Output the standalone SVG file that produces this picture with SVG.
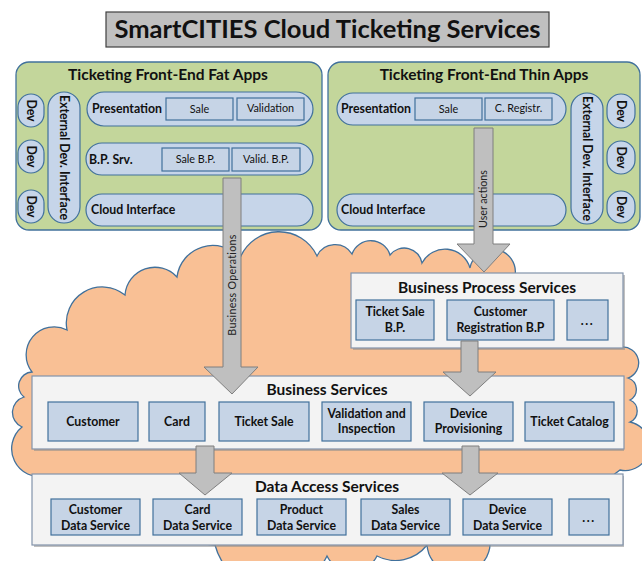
<svg xmlns="http://www.w3.org/2000/svg" width="642" height="561" viewBox="0 0 642 561">
<style>
text{font-family:Lato,"Open Sans","Liberation Sans",sans-serif;fill:#111}
.title{font-size:25.5px;font-weight:bold;text-anchor:middle}
.ph{font-size:15.5px;font-weight:bold;text-anchor:middle}
.pl{font-size:12.3px;font-weight:bold}
.sm{font-size:10.8px;text-anchor:middle}
.rv{font-size:12.3px;font-weight:bold;text-anchor:middle}
.st{font-size:15.5px;font-weight:bold;text-anchor:middle}
.bl{font-size:12.3px;font-weight:bold;text-anchor:middle}
.ar{font-size:10.7px;text-anchor:middle;fill:#222}
.panel{fill:#c3d69b;stroke:#41719c;stroke-width:1.3}
.pill{fill:#c6d5e9;stroke:#41719c;stroke-width:1.2}
.sub{fill:#c6d4e6;stroke:#41719c;stroke-width:1.2}
.svc{fill:#f3f3f3;stroke:#8293ab;stroke-width:1.2}
.shd{fill:#8c8c8c;opacity:.55}
.arrow{fill:#bfbfbf;stroke:#7f7f7f;stroke-width:1}
</style>

<g id="title">
<rect x="106" y="12" width="443" height="35" fill="#c0c0c0" stroke="#404040" stroke-width="1.2"/>
<text class="title" x="327.5" y="38">SmartCITIES Cloud Ticketing Services</text>
</g>

<g id="cloud">
<path d="M46 476 A28 28 0 0 1 22 427 A16 16 0 0 1 24 397 A14 14 0 0 1 32 372 A28 28 0 0 1 67 330 A36 36 0 0 1 125 295 A30 30 0 0 1 177 277 A36 36 0 0 1 240 258 A42 42 0 0 1 317 256 A20 20 0 0 1 352 254 A20 20 0 0 1 390 255 A18 18 0 0 1 422 263 A26 26 0 0 1 470 268 A16 16 0 0 1 515 276 L618 280 L621 347 A16 16 0 0 1 628 378 A12 12 0 0 1 630 400 A12 12 0 0 1 630 422 A20 20 0 0 1 620 470 L600 485 L490 540 A28 28 0 0 1 427 545 A40 40 0 0 1 377 556 A28 28 0 0 1 327 556 A60 60 0 0 1 215 545 L60 530 Z" fill="#f9c095" stroke="#41719c" stroke-width="1.3"/>
</g>

<g id="fat-apps">
<rect class="panel" x="16" y="62" width="306" height="168" rx="13"/>
<text class="ph" x="168" y="80">Ticketing Front-End Fat Apps</text>
</g>
<g id="fat-dev1"><rect class="pill" x="18" y="94" width="26" height="33" rx="13"/><text class="rv" transform="translate(31 110.5) rotate(90)" y="4.3">Dev</text></g>
<g id="fat-dev2"><rect class="pill" x="18" y="140" width="26" height="33" rx="13"/><text class="rv" transform="translate(31 156.5) rotate(90)" y="4.3">Dev</text></g>
<g id="fat-dev3"><rect class="pill" x="18" y="190" width="26" height="33" rx="13"/><text class="rv" transform="translate(31 206.5) rotate(90)" y="4.3">Dev</text></g>
<g id="fat-ext"><rect class="pill" x="48" y="92" width="32" height="131" rx="16"/><text class="rv" transform="translate(64 157.5) rotate(90)" y="4.3">External Dev. Interface</text></g>
<g id="fat-presentation">
<rect class="pill" x="87" y="92" width="226" height="34" rx="17"/>
<text class="pl" x="92" y="113">Presentation</text>
<rect class="sub" x="166" y="98" width="67" height="22"/><text class="sm" x="199.5" y="112.5">Sale</text>
<rect class="sub" x="237" y="98" width="67" height="22"/><text class="sm" x="270.5" y="112">Validation</text>
</g>
<g id="fat-bpsrv">
<rect class="pill" x="86" y="143" width="227" height="32" rx="16"/>
<text class="pl" x="89" y="164">B.P. Srv.</text>
<rect class="sub" x="162" y="148" width="67" height="23"/><text class="sm" x="195.5" y="163">Sale B.P.</text>
<rect class="sub" x="232" y="148" width="68" height="23"/><text class="sm" x="266" y="163">Valid. B.P.</text>
</g>
<g id="fat-cloud-if">
<rect class="pill" x="86" y="194" width="227" height="32" rx="16"/>
<text class="pl" x="91" y="214">Cloud Interface</text>
</g>

<g id="thin-apps">
<rect class="panel" x="328" y="62" width="312" height="168" rx="13"/>
<text class="ph" x="484" y="80">Ticketing Front-End Thin Apps</text>
</g>
<g id="thin-presentation">
<rect class="pill" x="337" y="93" width="229" height="32" rx="16"/>
<text class="pl" x="341" y="113">Presentation</text>
<rect class="sub" x="415" y="98" width="67" height="22"/><text class="sm" x="448.5" y="112.5">Sale</text>
<rect class="sub" x="485" y="98" width="67" height="22"/><text class="sm" x="518.5" y="112">C. Registr.</text>
</g>
<g id="thin-cloud-if">
<rect class="pill" x="337" y="194" width="229" height="32" rx="16"/>
<text class="pl" x="341" y="214">Cloud Interface</text>
</g>
<g id="thin-ext"><rect class="pill" x="571" y="93" width="32" height="131" rx="16"/><text class="rv" transform="translate(587 158.5) rotate(90)" y="4.3">External Dev. Interface</text></g>
<g id="thin-dev1"><rect class="pill" x="607" y="94" width="28" height="34" rx="14"/><text class="rv" transform="translate(621 111) rotate(90)" y="4.3">Dev</text></g>
<g id="thin-dev2"><rect class="pill" x="607" y="141" width="28" height="33" rx="14"/><text class="rv" transform="translate(621 157.5) rotate(90)" y="4.3">Dev</text></g>
<g id="thin-dev3"><rect class="pill" x="607" y="191" width="28" height="32" rx="14"/><text class="rv" transform="translate(621 207) rotate(90)" y="4.3">Dev</text></g>

<g id="business-process-services">
<rect class="shd" x="353" y="275" width="272" height="75"/>
<rect class="svc" x="351" y="273" width="272" height="75"/>
<text class="st" x="487" y="293">Business Process Services</text>
<rect class="sub" x="356" y="300" width="78" height="40"/><text class="bl" x="395" y="316">Ticket Sale</text><text class="bl" x="395" y="332">B.P.</text>
<rect class="sub" x="447" y="300" width="107" height="40"/><text class="bl" x="500.5" y="316">Customer</text><text class="bl" x="500.5" y="332">Registration B.P</text>
<rect class="sub" x="567" y="300" width="41" height="40"/><text class="bl" x="587.5" y="325" letter-spacing="1.5">...</text>
</g>

<g id="business-services">
<rect class="shd" x="34" y="378" width="590" height="73"/>
<rect class="svc" x="32" y="376" width="592" height="73"/>
<text class="st" x="327" y="395">Business Services</text>
<rect class="sub" x="48" y="402" width="90" height="39"/><text class="bl" x="93" y="425.5">Customer</text>
<rect class="sub" x="149" y="402" width="56" height="39"/><text class="bl" x="177" y="425.5">Card</text>
<rect class="sub" x="219" y="402" width="90" height="39"/><text class="bl" x="264" y="425.5">Ticket Sale</text>
<rect class="sub" x="322" y="402" width="89" height="39"/><text class="bl" x="366.5" y="418">Validation and</text><text class="bl" x="366.5" y="433">Inspection</text>
<rect class="sub" x="424" y="402" width="89" height="39"/><text class="bl" x="468.5" y="418">Device</text><text class="bl" x="468.5" y="433">Provisioning</text>
<rect class="sub" x="525" y="402" width="89" height="39"/><text class="bl" x="569.5" y="425.5">Ticket Catalog</text>
</g>

<g id="data-access-services">
<rect class="shd" x="34" y="476" width="590" height="71"/>
<rect class="svc" x="32" y="474" width="591" height="71"/>
<text class="st" x="327" y="492">Data Access Services</text>
<rect class="sub" x="51" y="499" width="89" height="36"/><text class="bl" x="95.5" y="514">Customer</text><text class="bl" x="95.5" y="530">Data Service</text>
<rect class="sub" x="153" y="499" width="89" height="36"/><text class="bl" x="197.5" y="514">Card</text><text class="bl" x="197.5" y="530">Data Service</text>
<rect class="sub" x="257" y="499" width="89" height="36"/><text class="bl" x="301.5" y="514">Product</text><text class="bl" x="301.5" y="530">Data Service</text>
<rect class="sub" x="361" y="499" width="89" height="36"/><text class="bl" x="405.5" y="514">Sales</text><text class="bl" x="405.5" y="530">Data Service</text>
<rect class="sub" x="463" y="499" width="89" height="36"/><text class="bl" x="507.5" y="514">Device</text><text class="bl" x="507.5" y="530">Data Service</text>
<rect class="sub" x="569" y="499" width="40" height="36"/><text class="bl" x="589" y="522" letter-spacing="1.5">...</text>
</g>

<g id="connectors">
<polygon class="arrow" points="223,178 241,178 241,367 258,367 232,394 204,367 223,367"/>
<text class="ar" transform="translate(232 285) rotate(-90)" y="3.8" letter-spacing="0.3">Business Operations</text>
<polygon class="arrow" points="474,128 493,128 493,244 510,244 484,272 457,244 474,244"/>
<text class="ar" transform="translate(483.5 199) rotate(-90)" y="3.8">User actions</text>
<polygon class="arrow" points="461,341 478,341 478,372 496,372 470,396 443,372 461,372"/>
<polygon class="arrow" points="196,446 214,446 214,473 232,473 205,495 179,473 196,473"/>
<polygon class="arrow" points="462,446 479,446 479,473 498,473 470,495 442,473 462,473"/>
</g>
</svg>
